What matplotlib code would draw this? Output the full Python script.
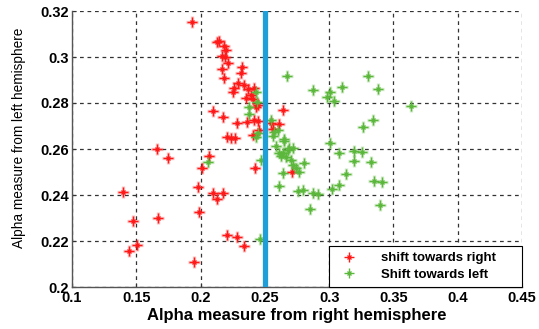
import matplotlib
matplotlib.use("Agg")
import matplotlib.pyplot as plt
from matplotlib.lines import Line2D
from matplotlib.legend_handler import HandlerTuple

# Data
right_x = [0.193, 0.2125, 0.2141, 0.218, 0.2195, 0.2164, 0.2188, 0.2211, 0.2164, 0.218,
           0.232, 0.2312, 0.2289, 0.2336, 0.2258, 0.2367, 0.2414, 0.225, 0.239, 0.2352,
           0.2406, 0.243, 0.2445, 0.2094, 0.2172, 0.2281, 0.2359, 0.2414, 0.2445, 0.2453,
           0.2406, 0.2203, 0.2234, 0.2266, 0.264, 0.2547, 0.2609, 0.2563, 0.1664, 0.175,
           0.1398, 0.1477, 0.1672, 0.1445, 0.1508, 0.1945, 0.1984, 0.1977, 0.2008, 0.2063,
           0.2094, 0.2125, 0.2172, 0.2203, 0.2281, 0.2336, 0.2422, 0.2711]
right_y = [0.3152, 0.3065, 0.307, 0.3048, 0.303, 0.3004, 0.300, 0.2974, 0.2948, 0.2909,
           0.2957, 0.293, 0.2887, 0.2878, 0.2865, 0.2861, 0.2865, 0.2848, 0.2835, 0.2822,
           0.2817, 0.2783, 0.2791, 0.2765, 0.2739, 0.2713, 0.2717, 0.2726, 0.2722, 0.2683,
           0.2661, 0.2652, 0.2648, 0.2648, 0.277, 0.2713, 0.2709, 0.2687, 0.260, 0.2561,
           0.2413, 0.2287, 0.230, 0.2157, 0.2183, 0.2109, 0.2326, 0.2435, 0.2517, 0.257,
           0.2409, 0.2383, 0.2409, 0.2226, 0.2217, 0.2178, 0.2517, 0.250]

left_x = [0.2672, 0.2875, 0.3008, 0.2984, 0.3039, 0.3102, 0.3305, 0.3383, 0.3633, 0.3344,
          0.3266, 0.3008, 0.243, 0.2438, 0.2375, 0.2375, 0.2547, 0.2602, 0.2563, 0.2648,
          0.2445, 0.243, 0.2586, 0.2648, 0.2688, 0.2719, 0.2641, 0.2609, 0.2664, 0.2703,
          0.2719, 0.2742, 0.2805, 0.2766, 0.2641, 0.2609, 0.2758, 0.2797, 0.2875, 0.2914,
          0.2852, 0.3078, 0.3195, 0.3258, 0.3195, 0.3328, 0.3133, 0.3352, 0.3414, 0.3078,
          0.3023, 0.3398, 0.2469, 0.2055, 0.2461, 0.268, 0.2625, 0.257]
left_y = [0.2917, 0.2857, 0.2848, 0.2826, 0.2809, 0.287, 0.2917, 0.2861, 0.2787, 0.2726,
          0.2696, 0.2626, 0.2848, 0.2804, 0.2783, 0.2752, 0.2726, 0.2683, 0.2657, 0.2643,
          0.267, 0.2652, 0.2613, 0.2635, 0.2604, 0.2604, 0.2583, 0.2583, 0.2565, 0.2552,
          0.253, 0.2517, 0.2539, 0.250, 0.2496, 0.2439, 0.2417, 0.2422, 0.2409, 0.2404,
          0.2339, 0.2583, 0.2591, 0.2587, 0.2548, 0.2543, 0.2491, 0.2461, 0.2457, 0.2443,
          0.2426, 0.2357, 0.2552, 0.2543, 0.2209, 0.2596, 0.257, 0.2674]

threshold = 0.25
x_ticks = [0.1, 0.15, 0.2, 0.25, 0.3, 0.35, 0.4, 0.45]
x_tick_labels = ["0.1", "0.15", "0.2", "0.25", "0.3", "0.35", "0.4", "0.45"]
y_ticks = [0.2, 0.22, 0.24, 0.26, 0.28, 0.3, 0.32]
y_tick_labels = ["0.2", "0.22", "0.24", "0.26", "0.28", "0.3", "0.32"]

plt.rcParams['font.family'] = ['Liberation Sans', 'DejaVu Sans']

fig = plt.figure(figsize=(5.39, 3.29), dpi=100)
ax = fig.add_axes([72/539, 1-287/329, 450/539, 276/329])

red = '#FF1A1A'
green = '#5CB83C'


def asterisk(xs, ys, color):
    ax.plot(xs, ys, linestyle='none', marker='+', ms=8, mew=2.4,
            color=color, alpha=0.28, zorder=3)
    ax.plot(xs, ys, linestyle='none', marker='+', ms=7, mew=1.0,
            color=color, zorder=4)
    ax.plot(xs, ys, linestyle='none', marker='x', ms=3.2, mew=1.0,
            color=color, zorder=4)


asterisk(right_x, right_y, red)
asterisk(left_x, left_y, green)

ax.axvline(threshold, color='#1E9FD8', lw=3.8, zorder=5)

ax.set_xlim(0.1, 0.45)
ax.set_ylim(0.2, 0.32)
ax.set_xticks(x_ticks)
ax.set_xticklabels(x_tick_labels, fontsize=10.5, fontweight='bold')
ax.set_yticks(y_ticks)
ax.set_yticklabels(y_tick_labels, fontsize=10.5, fontweight='bold')
ax.tick_params(direction='in', length=3, width=0.8, colors='#333333', pad=2,
               labelcolor='black')
ax.tick_params(axis='x', pad=3)

ax.grid(True, linestyle=(0, (3, 3)), color='#333333', linewidth=0.9)
ax.set_axisbelow(True)
for s in ['top', 'right']:
    ax.spines[s].set_visible(False)
for s in ['left', 'bottom']:
    ax.spines[s].set_color('#555555')
    ax.spines[s].set_linewidth(1.0)

ax.set_xlabel("Alpha measure from right hemisphere", fontsize=12,
              fontweight='bold')
ax.xaxis.set_label_coords(0.5, -0.075)
ax.set_ylabel("Alpha measure from left hemisphere", fontsize=9.8)
ax.yaxis.set_label_coords(-0.102, 0.54)


def handle(color):
    return (Line2D([], [], linestyle='none', marker='+', ms=7, mew=1.0, color=color),
            Line2D([], [], linestyle='none', marker='x', ms=3.2, mew=1.0, color=color))


leg = ax.legend([handle(red), handle(green)],
                ["shift towards right", "Shift towards left"],
                handler_map={tuple: HandlerTuple(ndivide=1, pad=0)},
                loc='lower left', bbox_to_anchor=(0.571, 0.0, 0.429, 0.17),
                mode='expand', borderaxespad=0, fancybox=False,
                prop={'size': 9.5, 'weight': 'bold'}, handlelength=2.2,
                handletextpad=1.3, borderpad=0.45, labelspacing=0.35,
                framealpha=1, edgecolor='black')
leg.get_frame().set_linewidth(0.8)
leg.set_zorder(6)

fig.savefig("out.png", dpi=100)
